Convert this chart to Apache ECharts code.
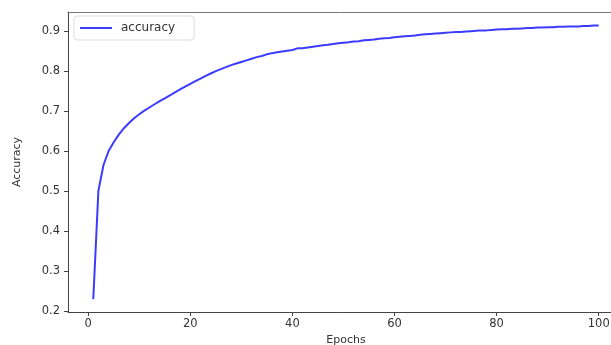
<!DOCTYPE html>
<html>
<head>
<meta charset="utf-8">
<script src="https://cdn.jsdelivr.net/npm/echarts@6/dist/echarts.min.js"></script>
<style>
  html, body { margin: 0; padding: 0; background: #fff; }
  #chart { width: 611px; height: 345px; }
</style>
</head>
<body>
<div id="chart"></div>
<script>
// epoch numbers 1..100 and accuracy
const epochs = Array.from({ length: 100 }, (_, i) => i + 1);
const accuracy = [
  0.229, 0.500, 0.565, 0.600, 0.622, 0.641, 0.657, 0.670, 0.682, 0.692,
  0.701, 0.709, 0.717, 0.725, 0.732, 0.739, 0.747, 0.754, 0.761, 0.768,
  0.775, 0.781, 0.788, 0.794, 0.800, 0.805, 0.810, 0.815, 0.819, 0.823,
  0.827, 0.831, 0.835, 0.838, 0.842, 0.845, 0.847, 0.849, 0.851, 0.853,
  0.857, 0.857, 0.859, 0.861, 0.863, 0.865, 0.866, 0.868, 0.870, 0.871,
  0.872, 0.874, 0.875, 0.877, 0.878, 0.879, 0.881, 0.882, 0.883, 0.885,
  0.886, 0.887, 0.888, 0.889, 0.891, 0.892, 0.893, 0.894, 0.895, 0.896,
  0.897, 0.898, 0.898, 0.899, 0.900, 0.901, 0.902, 0.902, 0.903, 0.904,
  0.905, 0.905, 0.906, 0.906, 0.907, 0.908, 0.908, 0.909, 0.909, 0.910,
  0.910, 0.911, 0.911, 0.912, 0.912, 0.912, 0.913, 0.913, 0.914, 0.914
];
const xTicks = [0, 20, 40, 60, 80, 100];
const yTicks = [0.2, 0.3, 0.4, 0.5, 0.6, 0.7, 0.8, 0.9];

const chart = echarts.init(document.getElementById('chart'));
const font = 'DejaVu Sans';
const axisColor = '#444';
const xRange = { min: -3.95, max: 104.95 };

chart.setOption({
  animation: false,
  textStyle: { fontFamily: font },
  grid: {
    left: 68, top: 12, width: 556, height: 300,
    outerBoundsMode: 'none'
  },
  legend: {
    left: 74, top: 16,
    data: ['accuracy'],
    icon: 'rect', itemWidth: 32, itemHeight: 2, itemGap: 10,
    backgroundColor: '#fff', borderColor: '#ddd', borderWidth: 1, borderRadius: 3,
    padding: [6, 19, 6, 6],
    textStyle: { fontFamily: font, fontSize: 12, color: '#333', padding: [0, 0, 0, 4] }
  },
  xAxis: [{
    type: 'value',
    ...xRange,
    name: 'Epochs', nameLocation: 'middle', nameGap: 21,
    nameTextStyle: { fontFamily: font, fontSize: 11, color: '#333' },
    axisLine: { show: true, onZero: false, lineStyle: { color: axisColor } },
    axisTick: { show: true, length: 4, customValues: xTicks, lineStyle: { color: axisColor } },
    axisLabel: { customValues: xTicks, margin: 6, fontFamily: font, fontSize: 11.5, color: '#333' },
    splitLine: { show: false }
  }, {
    // top spine only
    type: 'value', position: 'top',
    ...xRange,
    axisLine: { show: true, onZero: false, lineStyle: { color: '#777' } },
    axisTick: { show: false },
    axisLabel: { show: false },
    splitLine: { show: false }
  }],
  yAxis: {
    type: 'value',
    min: 0.197, max: 0.948,
    name: 'Accuracy', nameLocation: 'middle', nameGap: 45, nameRotate: 90,
    nameTextStyle: { fontFamily: font, fontSize: 11, color: '#333' },
    axisLine: { show: true, onZero: false, lineStyle: { color: axisColor } },
    axisTick: { show: true, length: 4, customValues: yTicks, lineStyle: { color: axisColor } },
    axisLabel: {
      customValues: yTicks, margin: 8, fontFamily: font, fontSize: 11.5, color: '#333',
      formatter: v => v.toFixed(1)
    },
    splitLine: { show: false }
  },
  series: [{
    name: 'accuracy',
    type: 'line',
    data: epochs.map((e, i) => [e, accuracy[i]]),
    showSymbol: false,
    smooth: false,
    color: '#3b3bff',
    lineStyle: { color: '#3b3bff', width: 2 }
  }]
});
</script>
</body>
</html>
